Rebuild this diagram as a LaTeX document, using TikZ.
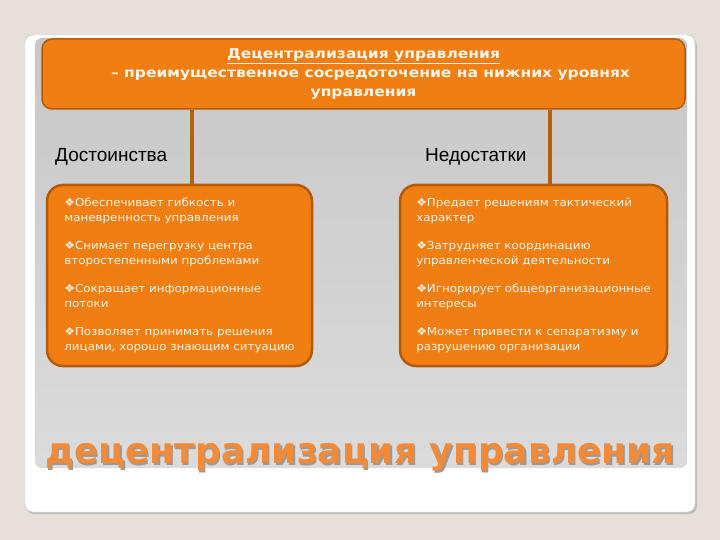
\documentclass[tikz,border=0pt]{standalone}
\usepackage{fontspec}
\setmainfont{DejaVu Sans}
\newfontfamily\labfont{Liberation Sans}
\newfontfamily\headfont[FakeStretch=1.15]{DejaVu Sans}
\newfontfamily\itemfont[FakeStretch=1.08]{DejaVu Sans}
\definecolor{bgc}{HTML}{E6E0D8}
\definecolor{orfill}{HTML}{F07E12}
\definecolor{ordraw}{HTML}{B35A06}
\definecolor{conncol}{HTML}{B0600E}
\definecolor{txtw}{HTML}{FFF6EA}
\definecolor{titleor}{HTML}{F28A38}
\tikzset{
  topbox/.style={draw=ordraw, line width=1.5pt, fill=orfill, rounded corners=10pt, minimum width=643pt, minimum height=70pt, inner sep=0pt, align=center, text=txtw, font=\headfont\bfseries\fontsize{13.5}{19}\selectfont},
  itembox/.style={draw=ordraw, line width=2.5pt, fill=orfill, rounded corners=16pt, minimum height=181pt, inner sep=0pt, align=left, text=txtw, font=\itemfont\fontsize{11}{14.5}\selectfont},
  lab/.style={font=\labfont\fontsize{19}{22}\selectfont, text=black, inner sep=0pt},
  conn/.style={draw=conncol, line width=3.5pt},
  bigtitle/.style={anchor=base, font=\bfseries\fontsize{36}{40}\selectfont, inner sep=0pt}
}
\begin{document}
\begin{tikzpicture}[x=1pt,y=-1pt]
\useasboundingbox (0,0) rectangle (720,540);
\fill[bgc] (0,0) rectangle (720,540);
\fill[black!25, rounded corners=8pt] (26,38) rectangle (697,514);
\fill[white, draw=black!20, rounded corners=8pt] (25,35) rectangle (695,512);
\shade[top color=black!22, bottom color=black!14, rounded corners=7pt] (35,38) rectangle (687,468);
\node[topbox] (top) at (363.5,74) {\underline{Децентрализация управления}\\ \hspace*{14pt}– преимущественное сосредоточение на нижних уровнях\\ управления};
\node[lab, anchor=west] (adv) at (55,157) {Достоинства};
\node[lab, anchor=west] (dis) at (425,157) {Недостатки};
\node[itembox, minimum width=265pt] (lb) at (179.5,275.5) {❖Обеспечивает гибкость и\\ маневренность управления\\[14pt] ❖Снимает перегрузку центра\\ второстепенными проблемами\\[14pt] ❖Сокращает информационные\\ потоки\\[14pt] ❖Позволяет принимать решения\\ лицами, хорошо знающим ситуацию};
\node[itembox, minimum width=267pt] (rb) at (533.5,275.5) {❖Предает решениям тактический\\ характер\\[14pt] ❖Затрудняет координацию\\ управленческой деятельности\\[14pt] ❖Игнорирует общеорганизационные\\ интересы\\[14pt] ❖Может привести к сепаратизму и\\ разрушению организации};
\draw[conn] (top.south -| 192,0) -- (lb.north -| 192,0);
\draw[conn] (top.south -| 550,0) -- (rb.north -| 550,0);
\node[bigtitle, text=black!40] (shadow) at (361.5,465.5) {децентрализация управления};
\node[bigtitle, text=titleor] (title) at (360,463) {децентрализация управления};
\end{tikzpicture}
\end{document}
